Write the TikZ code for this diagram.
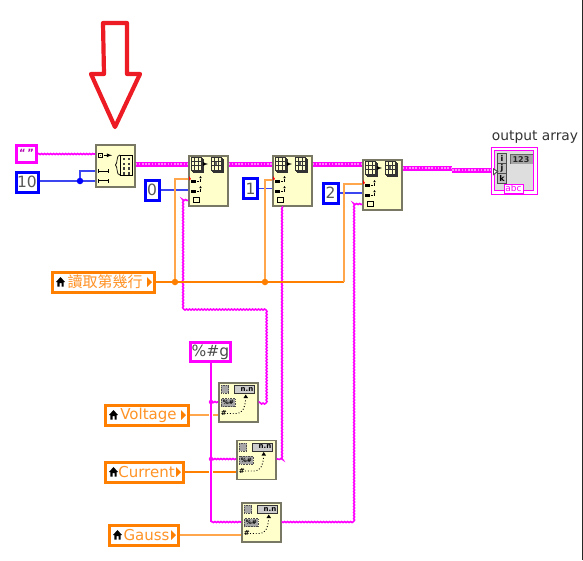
\documentclass[tikz,border=0pt]{standalone}
\usepackage{fontspec}
\setmainfont{DejaVu Sans}
\newfontfamily\cjkf{Noto Sans CJK TC}
\usetikzlibrary{decorations.pathmorphing}
\definecolor{lvpink}{RGB}{255,0,255}
\definecolor{lvorange}{RGB}{255,128,0}
\definecolor{lvblue}{RGB}{0,0,255}
\definecolor{lvwire}{RGB}{60,70,240}
\definecolor{lvcream}{RGB}{255,255,204}
\definecolor{lvedge}{RGB}{120,120,100}
\definecolor{lvred}{RGB}{237,28,36}
\tikzset{
  x=1pt,y=-1pt,
  block/.style={draw=lvedge,line width=1.5pt,fill=lvcream,anchor=north west,inner sep=0pt,minimum width=39pt},
  tblblock/.style={block,minimum height=50pt},
  fmtblock/.style={block,minimum height=39pt},
  numconst/.style={draw=lvblue,line width=3pt,fill=white,inner sep=0pt,text=black!65,font=\fontsize{15.5}{17}\selectfont},
  ctl/.style={draw=lvorange,line width=3pt,fill=white,inner sep=0pt,text=lvorange!85!white,font=\fontsize{15}{17}\selectfont},
  strwire/.style={draw=lvpink,line width=1.6pt,decorate,decoration={snake,amplitude=.5pt,segment length=3pt}},
  strplain/.style={draw=lvpink,line width=1.8pt},
  orw/.style={draw=lvorange,line width=1.5pt},
  orl/.style={draw=lvorange!70!white,line width=1.6pt},
  blw/.style={draw=lvwire,line width=1.4pt},
  halo/.style={draw=white,line width=3.6pt},
  icon/.style={draw=black!80,line width=.6pt},
  hatch/.style={draw=black!70,fill=black!35,line width=.6pt,densely dotted},
  jo/.style={circle,fill=lvorange,inner sep=0pt,minimum size=6.5pt},
  jb/.style={circle,fill=lvblue,inner sep=0pt,minimum size=6.5pt},
  jp/.style={circle,fill=lvpink,inner sep=0pt,minimum size=4.5pt},
}
% two-dimensional string wire
\newcommand{\fatwire}[2]{%
  \draw[lvpink,line width=5pt] #1 -- #2;
  \draw[white!55!lvpink,line width=1.7pt,dash pattern=on 1.6pt off 1.6pt] #1 -- #2;}
% glyphs of the array subset block
\newcommand{\tblicon}[1]{%
\begin{scope}[shift={(#1.north west)}]
  \draw[icon,fill=lvcream] (5.5,4) rectangle (15,17);
  \draw[icon,fill=lvcream] (4.5,3) rectangle (14,16);
  \draw[icon,fill=lvcream] (3.5,2) rectangle (13,15);
  \draw[icon] (6.7,2)--(6.7,15) (9.8,2)--(9.8,15) (3.5,6.3)--(13,6.3) (3.5,10.6)--(13,10.6);
  \draw[-{latex},black,line width=.7pt] (14.5,9)--(20,9);
  \draw[icon,fill=lvcream] (25.5,4) rectangle (35,17);
  \draw[icon,fill=lvcream] (24.5,3) rectangle (34,16);
  \draw[icon,fill=lvcream] (23.5,2) rectangle (33,15);
  \draw[icon] (26.7,2)--(26.7,15) (29.8,2)--(29.8,15) (23.5,6.3)--(33,6.3) (23.5,10.6)--(33,10.6);
  \fill[black!60] (27.2,7) rectangle (29.4,9.6);
  \fill[black] (3.3,25) rectangle (7.6,27.8);
  \fill[black] (3.3,35) rectangle (7.6,37.8);
  \draw[black,line width=.6pt,densely dotted] (8.5,26.5)--(12.5,26.5)--(12.5,22.5);
  \draw[black,line width=.6pt,densely dotted] (8.5,36.5)--(12.5,36.5)--(12.5,32.5);
  \fill[black] (11.3,23)--(13.7,23)--(12.5,21)--cycle;
  \fill[black] (11.3,33)--(13.7,33)--(12.5,31)--cycle;
  \draw[black,line width=.8pt] (5.5,42.5) rectangle (11,47.5);
  \fill[red] (1,21)--(3,24)--(1,25.5)--cycle;
\end{scope}}
% glyphs of the number-to-string block
\newcommand{\fmticon}[1]{%
\begin{scope}[shift={(#1.north west)}]
  \fill[black!35] (3.3,3.3) rectangle (10.7,11.3);
  \draw[hatch] (3.3,3.3) rectangle (10.7,11.3);
  \fill[black!20] (16.7,3.3) rectangle (36.7,11.3);
  \draw[icon] (16.7,3.3) rectangle (36.7,11.3);
  \node[inner sep=0pt,font=\fontsize{7}{7}\selectfont\bfseries,text=black] (#1t) at (29,7.3) {n.n};
  \fill[black!35] (3.3,16.7) rectangle (17.3,24.7);
  \draw[hatch] (3.3,16.7) rectangle (17.3,24.7);
  \node[inner sep=0pt,font=\fontsize{6}{7}\selectfont\bfseries,text=black] (#1v) at (10.3,20.7) {\%\#};
  \node[inner sep=0pt,font=\fontsize{7}{8}\selectfont\bfseries,text=black] (#1h) at (5.7,31.3) {\#};
  \draw[black,line width=.9pt,dash pattern=on .9pt off 2pt] (9,31.5)--(19,31.5) .. controls (24,31.5) and (27,26) .. (27.7,17);
  \fill[black] (25.5,16)--(30,16)--(27.7,12.5)--cycle;
\end{scope}}
% house and right-pointing triangle on a control
\newcommand{\ctlicon}[1]{%
  \begin{scope}[shift={(#1.west)}]
    \fill[black] (5.5,0)--(10,-5)--(14.5,0)--(13.2,0)--(13.2,4.5)--(11,4.5)--(11,1)--(9,1)--(9,4.5)--(6.8,4.5)--(6.8,0)--cycle;
  \end{scope}
  \begin{scope}[shift={(#1.east)}]
    \fill[lvorange] (-8.5,-5)--(-3.5,0)--(-8.5,5)--cycle;
  \end{scope}}
\begin{document}
\begin{tikzpicture}
\useasboundingbox (0,0) rectangle (583,560);
\fill[white] (0,0) rectangle (583,560);
\draw[black!85,line width=1.3pt] (582.3,0) -- (582.3,560);

% red arrow
\draw[lvred,line width=4.2pt,line join=round,fill=none]
  (103,23)--(127,23)--(127,74)--(140,74)--(115,127)--(91,74)--(104,74)--cycle;

% nodes
\node[draw=lvpink,line width=3pt,fill=white,minimum width=19.5pt,minimum height=16.5pt,inner sep=0pt,text=lvpink!70!black,font=\fontsize{10}{10}\selectfont\bfseries] (strc) at (26.5,154) {\raisebox{2pt}{\textquotedblleft\,\textquotedblright}};
\node[numconst,minimum width=22pt,minimum height=20pt] (ten) at (27,182) {10};
\node[block,minimum height=42pt] (split) at (95,144) {};
\node[tblblock] (b1) at (188,155) {};
\node[tblblock] (b2) at (272,155) {};
\node[tblblock] (b3) at (362,159) {};
\node[numconst,minimum width=14pt,minimum height=20pt] (c0) at (152,190) {0};
\node[numconst,minimum width=14.5pt,minimum height=20.5pt] (c1) at (250.5,188.5) {1};
\node[numconst,minimum width=15pt,minimum height=20pt] (c2) at (330.5,193) {2};
\node[ctl,minimum width=102pt,minimum height=20pt] (row) at (103,282) {\hspace*{4pt}{\cjkf 讀取第幾行}};
\node[draw=lvpink,line width=3pt,fill=white,minimum width=40pt,minimum height=19.5pt,inner sep=0pt,text=black!70,font=\fontsize{15.5}{17}\selectfont] (fmt) at (210.5,352) {\%\#g};
\node[fmtblock] (fv) at (218,382) {};
\node[fmtblock] (fc) at (236,439.5) {};
\node[fmtblock] (fg) at (241,502) {};
\node[ctl,minimum width=83pt,minimum height=20pt] (volt) at (146.5,415) {\hspace*{4pt}Voltage};
\node[ctl,minimum width=78pt,minimum height=20pt] (curr) at (144,472) {\hspace*{5pt}Current};
\node[ctl,minimum width=69pt,minimum height=20pt] (gaus) at (143.5,535) {\hspace*{6pt}Gauss};
\node[draw=lvpink,line width=1.3pt,fill=white,anchor=north west,minimum width=46pt,minimum height=47pt,inner sep=0pt] (out) at (491,147) {};
\node[inner sep=0pt,text=black!80,font=\fontsize{13.8}{15}\selectfont] (outl) at (535,137) {output array};

% orange wires under the pink ones
\draw[orl] (volt.east) -- (fv.west |- volt.east);
\draw[orw] (curr.east) -- (fc.west |- curr.east);
\draw[orl] (gaus.east) -- (fg.west |- gaus.east);

% pink string wires
\draw[strwire] (strc.east) -- (split.west |- strc.east);
\coordinate (p1a) at (183,200);
\coordinate (p1b) at (183,309);
\coordinate (p1c) at (265.5,309);
\coordinate (p1d) at (265.5,402);
\draw[strwire] (b1.west |- p1a) -- (p1a) -- (p1b) -- (p1c) -- (p1d) -- (fv.east |- p1d);
\coordinate (p2a) at (282,459);
\draw[strwire] (p2a |- b2.south) -- (p2a) -- (fc.east |- p2a);
\coordinate (p3a) at (354,204);
\coordinate (p3b) at (354,522);
\draw[strwire] (b3.west |- p3a) -- (p3a) -- (p3b) -- (fg.east |- p3b);
\coordinate (fx) at (211,522);
\draw[halo] (fx |- fmt.south) -- (fx);
\draw[strplain] (fx |- fmt.south) -- (fx);
\draw[strwire] (fx) -- (fg.west |- fx);
\coordinate (jv) at (211,402);
\coordinate (jc) at (211,459);
\draw[strwire] (jv) -- (fv.west |- jv);
\draw[strwire] (jc) -- (fc.west |- jc);
\node[jp] (jpv) at (jv) {};
\node[jp] (jpc) at (jc) {};

% array wires
\fatwire{(split.east |- 0,164)}{(b1.west |- 0,164)}
\fatwire{(b1.east |- 0,164)}{(b2.west |- 0,164)}
\fatwire{(b2.east |- 0,164)}{(b3.west |- 0,164)}
\fatwire{(b3.east |- 0,168)}{(452,168)}
\fatwire{(452,170)}{(out.west |- 0,170)}

% blue wires
\coordinate (bj) at (80,181);
\draw[blw] (ten.east |- bj) -- (bj) -- (split.west |- bj);
\draw[blw] (bj) -- (80,171) -- (split.west |- 0,171);
\node[jb] (jb1) at (bj) {};
\draw[blw] (c0.east) -- (b1.west |- c0.east);
\draw[blw] (c1.east) -- (b2.west |- c1.east);
\draw[blw] (c2.east) -- (b3.west |- c2.east);

% orange index wires
\coordinate (oe) at (344,282);
\draw[orw] (row.east) -- (oe);
\draw[orl] (175,282) -- (175,179) -- (b1.west |- 0,179);
\draw[orl] (265,282) -- (265,180) -- (b2.west |- 0,180);
\draw[orl] (oe) -- (344,184) -- (b3.west |- 0,184);
\node[jo] (jo1) at (175,282) {};
\node[jo] (jo2) at (265,282) {};

% block glyphs
\tblicon{b1}\tblicon{b2}\tblicon{b3}
\fmticon{fv}\fmticon{fc}\fmticon{fg}
\ctlicon{row}\ctlicon{volt}\ctlicon{curr}\ctlicon{gaus}

% spreadsheet-string block glyphs
\begin{scope}[shift={(split.north west)}]
  \draw[black,line width=.7pt,fill=lvcream] (3,9.3) rectangle (7.7,13.3);
  \fill[black!70] (4.5,10.5) rectangle (6.2,12);
  \draw[-{latex},black,line width=.8pt] (8.5,11.3)--(17,11.3);
  \draw[black,line width=.7pt] (25,11) .. controls (21,11) and (23,19) .. (20.5,21) .. controls (23,23) and (21,31) .. (25,31);
  \draw[black,line width=.8pt,fill=lvcream] (25.3,11.7) rectangle (37.7,31);
  \foreach \r in {13.8,18.5,23.2,27.9}{\fill[black!75] (27.5,\r) rectangle (30.3,\r+2.6);\fill[black!75] (32.6,\r) rectangle (35.4,\r+2.6);}
  \draw[black,line width=.8pt] (3,25.3)--(3,29.3) (13,25.3)--(13,29.3) (3,27.3)--(13,27.3);
  \draw[black,line width=.8pt] (3,34.8)--(3,38.8) (13,34.8)--(13,38.8) (3,36.8)--(13,36.8);
\end{scope}

% indicator glyphs
\begin{scope}[shift={(out.north west)}]
  \draw[lvpink,line width=.9pt,fill=black!13] (3,3) rectangle (42,43);
  \draw[black!70,line width=1.1pt,fill=black!25] (6.5,6.5) rectangle (15.5,16.5);
  \draw[black!70,line width=1.1pt,fill=black!25] (6.5,16.5) rectangle (15.5,26.5);
  \draw[black!70,line width=1.1pt,fill=black!25] (6.5,26.5) rectangle (15.5,36.5);
  \node[inner sep=0pt,font=\fontsize{8}{9}\selectfont\bfseries] (oi) at (11,11.5) {i};
  \node[inner sep=0pt,font=\fontsize{8}{9}\selectfont\bfseries] (oj) at (11,21.5) {j};
  \node[inner sep=0pt,font=\fontsize{8}{9}\selectfont\bfseries] (ok) at (11,31.5) {k};
  \fill[black!35] (19,7.5) rectangle (41.5,17);
  \draw[black!60,line width=.5pt] (19,17)--(19,7.5)--(41.5,7.5);
  \node[inner sep=0pt,font=\fontsize{8}{9}\selectfont\bfseries,text=black!85] (o123) at (30,12.3) {123};
  \draw[lvpink,line width=.9pt,fill=white] (13,37) rectangle (32,46);
  \node[inner sep=0pt,font=\fontsize{9}{9}\selectfont,text=lvpink] (oabc) at (22.5,41.5) {abc};
  \fill[black!70] (2,21)--(7.5,24.5)--(2,28.5)--cycle;
  \fill[white] (3,23)--(5.5,24.5)--(3,26.5)--cycle;
\end{scope}
\end{tikzpicture}
\end{document}
